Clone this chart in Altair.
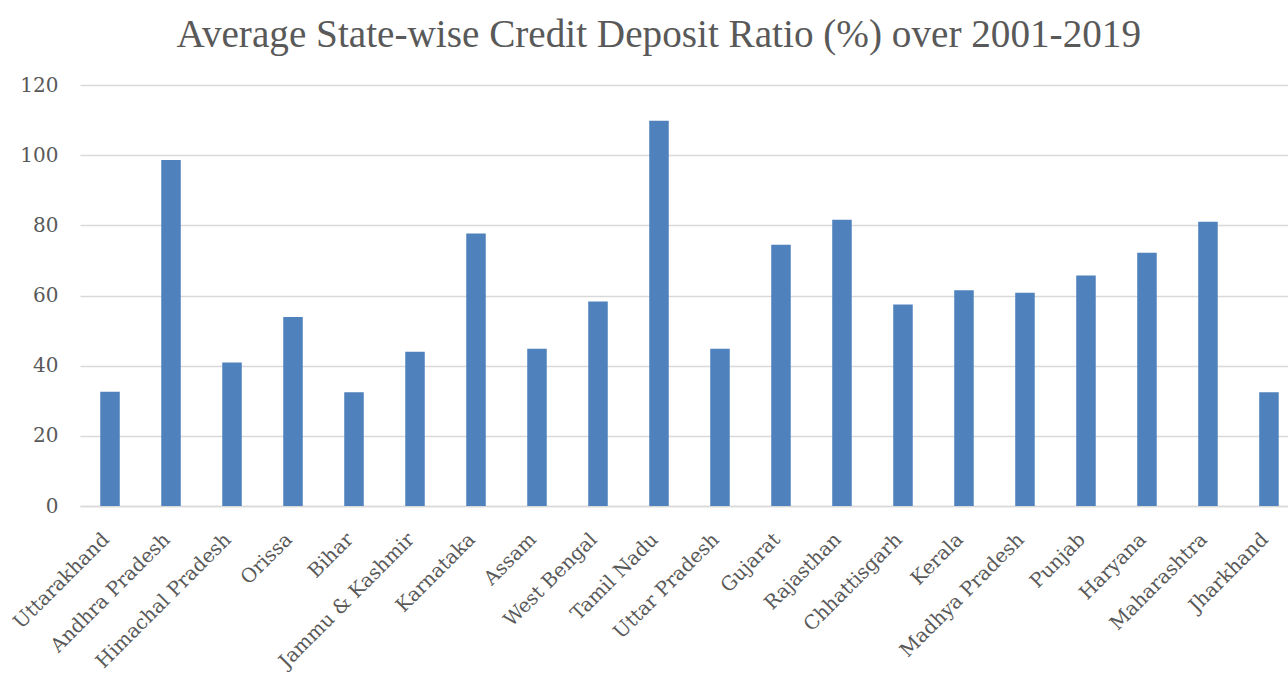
import altair as alt
import pandas as pd

states = ["Uttarakhand", "Andhra Pradesh", "Himachal Pradesh", "Orissa", "Bihar",
          "Jammu & Kashmir", "Karnataka", "Assam", "West Bengal", "Tamil Nadu",
          "Uttar Pradesh", "Gujarat", "Rajasthan", "Chhattisgarh", "Kerala",
          "Madhya Pradesh", "Punjab", "Haryana", "Maharashtra", "Jharkhand"]
cd_ratio = [32.6, 98.6, 40.9, 53.9, 32.4,
            44.0, 77.7, 44.8, 58.3, 109.8,
            44.8, 74.5, 81.6, 57.4, 61.5,
            60.8, 65.7, 72.2, 81.0, 32.4]
y_ticks = [0, 20, 40, 60, 80, 100, 120]

df = pd.DataFrame({"State": states, "Ratio": cd_ratio})

TITLE_FONT = "Liberation Serif"
LABEL_FONT = "DejaVu Serif"

chart = alt.Chart(df).mark_bar(color="#4F81BD").encode(
    x=alt.X("State:N", sort=states,
            scale=alt.Scale(paddingInner=0.68, paddingOuter=0.242, align=0.686),
            axis=alt.Axis(title=None, labelAngle=-45, labelAlign="right",
                          labelBaseline="middle", labelPadding=30, labelOffset=-4,
                          labelLimit=400,
                          ticks=False, domainColor="#d9d9d9", domainWidth=1.5,
                          labelFont=LABEL_FONT, labelFontSize=19.5, labelColor="#595959",
                          labelOverlap=False)),
    y=alt.Y("Ratio:Q",
            scale=alt.Scale(domain=[0, 120], nice=False),
            axis=alt.Axis(title=None, values=y_ticks, ticks=False, domain=False,
                          labelPadding=22, labelFont=LABEL_FONT, labelFontSize=20,
                          labelColor="#595959", gridColor="#d9d9d9", gridWidth=1.5)),
).properties(
    width=1208,
    height=421,
    title=alt.TitleParams("Average State-wise Credit Deposit Ratio (%) over 2001-2019",
                          font=TITLE_FONT, fontSize=39.2, fontWeight="normal",
                          color="#595959", anchor="middle", frame="bounds",
                          baseline="alphabetic", offset=30, dy=41, dx=10),
    autosize=alt.AutoSizeParams(type="none"),
    padding={"left": 80, "top": 85, "right": 0, "bottom": 166},
).configure_view(stroke=None)

chart.save("out.html", embed_options={"renderer": "svg", "actions": False})
